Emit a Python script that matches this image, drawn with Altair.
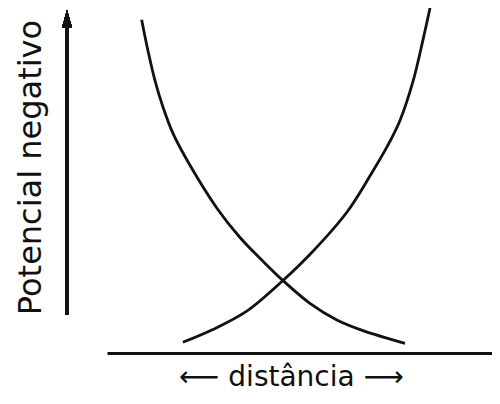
import altair as alt
import pandas as pd

# Curves (x: distance units 0-10 along the baseline, y: potential 0-10)
dec_x = [0.90, 1.07, 1.25, 1.46, 1.72, 2.14, 2.86, 3.46, 4.05, 4.57, 5.27, 5.97, 6.65, 7.74]
dec_y = [9.66, 8.73, 7.88, 7.11, 6.35, 5.47, 4.19, 3.34, 2.66, 2.10, 1.44, 0.96, 0.65, 0.28]
inc_x = [1.97, 2.75, 3.64, 4.57, 5.35, 6.23, 6.83, 7.30, 7.61, 7.95, 8.21, 8.39]
inc_y = [0.31, 0.68, 1.22, 2.10, 2.95, 4.08, 5.13, 6.03, 6.74, 7.88, 9.09, 10.0]

x_title = "⟵ distância ⟶"
y_title = "Potencial negativo"

df = pd.DataFrame(
    [{"curva": "a", "d": x, "p": y} for x, y in zip(dec_x, dec_y)]
    + [{"curva": "b", "d": x, "p": y} for x, y in zip(inc_x, inc_y)]
)

FONT = "DejaVu Sans"
xscale = alt.Scale(domain=[0, 10], nice=False, zero=False)
yscale = alt.Scale(domain=[0, 10], nice=False, zero=False)

lines = alt.Chart(df).mark_line(
    color="#111111", strokeWidth=2.8, interpolate="catmull-rom"
).encode(
    x=alt.X("d:Q", scale=xscale, axis=alt.Axis(
        title=x_title, domain=True, domainColor="#111111", domainWidth=3,
        ticks=False, labels=False, grid=False,
        titleFont=FONT, titleFontSize=28, titleFontWeight="normal", titleColor="#111111",
        titleX=184, titleY=32, titleBaseline="alphabetic", titleAlign="center",
    )),
    y=alt.Y("p:Q", scale=yscale, axis=alt.Axis(
        title=y_title, domain=False, ticks=False, labels=False, grid=False,
        titleFont=FONT, titleFontSize=32, titleFontWeight="normal", titleColor="#111111",
        titleX=-67, titleY=159, titleBaseline="alphabetic", titleAlign="center",
    )),
    detail="curva:N",
)

shaft = alt.Chart(df).mark_rule(color="#111111", strokeWidth=2.2).encode(
    x=alt.value(-40),
    y=alt.datum(1.1),
    y2=alt.datum(9.5),
)

head = alt.Chart(df).mark_point(
    shape="M0,-1L0.5,0.8L-0.5,0.8Z", filled=True, color="#111111",
    opacity=1, size=400, strokeWidth=0,
).encode(
    x=alt.value(-40),
    y=alt.datum(9.65),
)

chart = alt.layer(lines, shaft, head).properties(
    width=385, height=345,
    autosize=alt.AutoSizeParams(type="none"),
    padding={"left": 99, "right": 0, "top": 0, "bottom": 39},
    background="white",
).configure_view(stroke=None)

chart.save("out.html", embed_options={"renderer": "svg", "actions": False})
